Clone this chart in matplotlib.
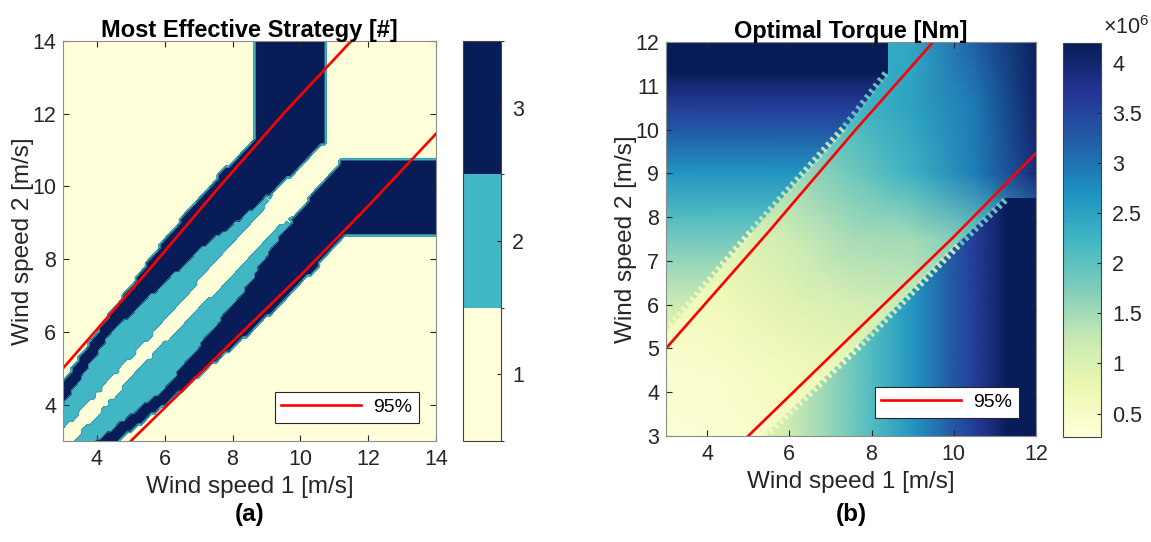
import numpy as np
import matplotlib.pyplot as plt
from matplotlib.colors import ListedColormap, BoundaryNorm, Normalize
from matplotlib.path import Path
from matplotlib.patches import Polygon
from matplotlib.cm import ScalarMappable
from matplotlib import patheffects

plt.rcParams['font.family'] = ['Liberation Sans', 'DejaVu Sans']
plt.rcParams['mathtext.fontset'] = 'custom'
plt.rcParams['mathtext.rm'] = 'Liberation Sans'

# ---------------- (a) most effective strategy ----------------
# region outlines for wind speed 2 > wind speed 1; the other half is the mirror image
navy_v1 = [2.9, 4.0, 6.17, 7.7, 8.62, 8.62, 10.75, 10.75, 9.21, 7.74, 7.3, 4.44, 2.9]
navy_v2 = [4.47, 6.0, 8.75, 10.41, 11.24, 14.2, 14.2, 11.24, 9.86, 8.75, 8.48, 6.0, 3.86]
teal_v1 = [2.9, 2.9, 4.44, 7.3, 7.74, 9.2, 8.9, 8.0, 5.7]
teal_v2 = [3.2, 3.86, 6.0, 8.48, 8.75, 9.85, 9.35, 8.48, 6.0]
strategy_levels = [1, 2, 3]
strategy_colors = ['#ffffd9', '#41b6c4', '#081d58']

# 95% lines (wind speed 1, wind speed 2)
upper95_v1 = [3.0, 5.5, 7.6, 9.5, 11.5]
upper95_v2 = [5.0, 7.67, 9.98, 12.0, 14.0]
lower95_v1 = [5.0, 7.5, 10.0, 12.0, 14.0]
lower95_v2 = [3.0, 5.28, 7.55, 9.46, 11.45]

# ---------------- (b) optimal torque [MNm] ----------------
# torque of the single dominant speed, used away from the diagonal band
profile_speed = [3, 4, 5, 6, 7, 8, 9, 10, 10.5, 11, 11.3, 12]
profile_torque = [0.3, 0.53, 0.82, 1.18, 1.6, 2.1, 2.65, 3.28, 3.6, 3.95, 4.2, 4.2]

# torque inside the band; rows = wind speed 2, columns = wind speed 1
band_speed = [3, 4.5, 6, 7.5, 9, 10.5, 12]
band_torque = [
    [0.30, 0.38, 0.50, 0.65, 0.85, 1.10, 1.40],
    [0.40, 0.48, 0.62, 0.80, 1.00, 1.25, 1.60],
    [0.55, 0.68, 0.92, 1.05, 1.20, 1.50, 2.00],
    [0.75, 0.92, 1.15, 1.45, 1.50, 1.85, 2.80],
    [1.00, 1.22, 1.50, 1.85, 2.30, 2.90, 3.90],
    [1.30, 1.55, 1.90, 2.20, 2.50, 2.95, 4.05],
    [1.60, 1.90, 2.20, 2.30, 2.45, 3.20, 4.15],
]

# band limits, and torque seen just inside each stretch of them
band_upper_v1 = [3.0, 5.1, 7.36, 8.4]
band_upper_v2 = [5.35, 7.65, 10.02, 11.29]
band_lower_v1 = [5.35, 7.7, 10.1, 11.25]
band_lower_v2 = [3.0, 5.1, 7.4, 8.44]
fringe_upper_torque = [0.7, 1.3, 1.95]
fringe_lower_torque = [0.65, 1.2, 1.95]

torque_min, torque_max = 0.266, 4.2

# ------------------------------------------------------------
fig = plt.figure(figsize=(11.51, 5.42), dpi=100)
ax_a = fig.add_axes([0.0547, 0.1863, 0.3241, 0.738])
cax_a = fig.add_axes([0.4023, 0.1863, 0.033, 0.738])
ax_b = fig.add_axes([0.5786, 0.1956, 0.3215, 0.727])
cax_b = fig.add_axes([0.9235, 0.1937, 0.033, 0.727])

tick_fs = 15.5
label_fs = 17.5
title_fs = 17
text_col = '#262626'
spine_col = '#8c8c8c'

# strategy grid
speeds_a = np.linspace(3, 14, 111)
V1, V2 = np.meshgrid(speeds_a, speeds_a)
pts = np.column_stack([V1.ravel(), V2.ravel()])
strategy = np.ones(V1.shape)
for xs, ys, level in [(navy_v1, navy_v2, 3), (teal_v1, teal_v2, 2)]:
    for px, py in [(xs, ys), (ys, xs)]:
        inside = Path(np.column_stack([px, py])).contains_points(pts)
        strategy[inside.reshape(V1.shape)] = level

cmap_a = ListedColormap(strategy_colors)
norm_a = BoundaryNorm([0.5, 1.5, 2.5, 3.5], cmap_a.N)
ax_a.contourf(V1, V2, strategy, levels=[0.5, 1.5, 2.5, 3.5], cmap=cmap_a, norm=norm_a)
ax_a.contour(V1, V2, strategy, levels=[1.5, 2.5], colors='#3a9ea6', linewidths=0.6)
ax_a.plot(upper95_v1, upper95_v2, color='red', lw=1.9, label='95%')
ax_a.plot(lower95_v1, lower95_v2, color='red', lw=1.9)
ax_a.set_xlim(3, 14)
ax_a.set_ylim(3, 14)
ax_a.set_xticks([4, 6, 8, 10, 12, 14])
ax_a.set_yticks([4, 6, 8, 10, 12, 14])
ax_a.set_title('Most Effective Strategy [#]', fontsize=title_fs, fontweight='bold', pad=3)

cb_a = fig.colorbar(ScalarMappable(norm=norm_a, cmap=cmap_a), cax=cax_a, ticks=strategy_levels)
cb_a.ax.set_yticklabels([str(s) for s in strategy_levels])

# torque field: band underneath, single-speed regions on top
cmap_b = plt.get_cmap('YlGnBu')
norm_b = Normalize(torque_min, torque_max)
ax_b.pcolormesh(band_speed, band_speed, np.array(band_torque), shading='gouraud',
                cmap=cmap_b, norm=norm_b)

upper_poly = Polygon(list(zip(band_upper_v1, band_upper_v2)) +
                     [(band_upper_v1[-1], 12.5), (2.5, 12.5), (2.5, band_upper_v2[0])],
                     closed=True, transform=ax_b.transData)
lower_poly = Polygon(list(zip(band_lower_v1, band_lower_v2)) +
                     [(12.5, band_lower_v2[-1]), (12.5, 2.5), (band_lower_v1[0], 2.5)],
                     closed=True, transform=ax_b.transData)

prof = np.array(profile_torque)
m_up = ax_b.pcolormesh([3, 12], profile_speed, np.column_stack([prof, prof]),
                       shading='gouraud', cmap=cmap_b, norm=norm_b)
m_up.set_clip_path(upper_poly)
m_lo = ax_b.pcolormesh(profile_speed, [3, 12], np.vstack([prof, prof]),
                       shading='gouraud', cmap=cmap_b, norm=norm_b)
m_lo.set_clip_path(lower_poly)

# serrated fringe along the band limits, teeth pointing outwards
for xs, ys, fringe, side in [(band_upper_v1, band_upper_v2, fringe_upper_torque, 90),
                             (band_lower_v1, band_lower_v2, fringe_lower_torque, -90)]:
    for i, t in enumerate(fringe):
        ax_b.plot(xs[i:i + 2], ys[i:i + 2], color='none', path_effects=[
            patheffects.TickedStroke(spacing=4.6, angle=side, length=0.55, linewidth=2.2,
                                     foreground=cmap_b(norm_b(t)))])

ax_b.plot(upper95_v1, upper95_v2, color='red', lw=1.9, label='95%')
ax_b.plot(lower95_v1, lower95_v2, color='red', lw=1.9)
ax_b.set_xlim(3, 12)
ax_b.set_ylim(3, 12)
ax_b.set_xticks([4, 6, 8, 10, 12])
ax_b.set_yticks(range(3, 13))
ax_b.set_title('Optimal Torque [Nm]', fontsize=title_fs, fontweight='bold', pad=3)

cb_b = fig.colorbar(ScalarMappable(norm=norm_b, cmap=cmap_b), cax=cax_b)
cb_ticks = [0.5, 1, 1.5, 2, 2.5, 3, 3.5, 4]
cb_b.set_ticks(cb_ticks)
cb_b.ax.set_yticklabels([f'{t:g}' for t in cb_ticks])
cax_b.text(1.05, 1.01, r'$\times\mathregular{10^{6}}$', transform=cax_b.transAxes,
           ha='left', va='bottom', fontsize=tick_fs, color=text_col)

for ax in (ax_a, ax_b):
    ax.set_xlabel('Wind speed 1 [m/s]', fontsize=label_fs, color=text_col, labelpad=4)
    ax.set_ylabel('Wind speed 2 [m/s]', fontsize=label_fs, color=text_col, labelpad=-1.5)
    ax.tick_params(direction='in', length=4, labelsize=tick_fs, colors=text_col,
                   top=True, right=True)
    ax.tick_params(axis='x', pad=6)
    ax.tick_params(axis='y', pad=5)
    for sp in ax.spines.values():
        sp.set_color(spine_col)
        sp.set_linewidth(0.8)
    leg = ax.legend(loc='lower right', bbox_to_anchor=(0.995, 0.006), fancybox=False,
                    framealpha=1, edgecolor=text_col, fontsize=14, handlelength=4.1,
                    handletextpad=0.6, borderpad=0.35, borderaxespad=0.8)
    leg.get_frame().set_linewidth(0.8)

for cax in (cax_a, cax_b):
    cax.tick_params(direction='in', length=3, labelsize=tick_fs, colors=text_col, pad=8)
cb_a.outline.set_edgecolor('#444444')
cb_b.outline.set_edgecolor('#444444')

fig.text(0.2165, 0.05, '(a)', fontsize=label_fs, fontweight='bold', ha='center', va='center')
fig.text(0.7395, 0.05, '(b)', fontsize=label_fs, fontweight='bold', ha='center', va='center')

fig.savefig('out.png', dpi=100)
